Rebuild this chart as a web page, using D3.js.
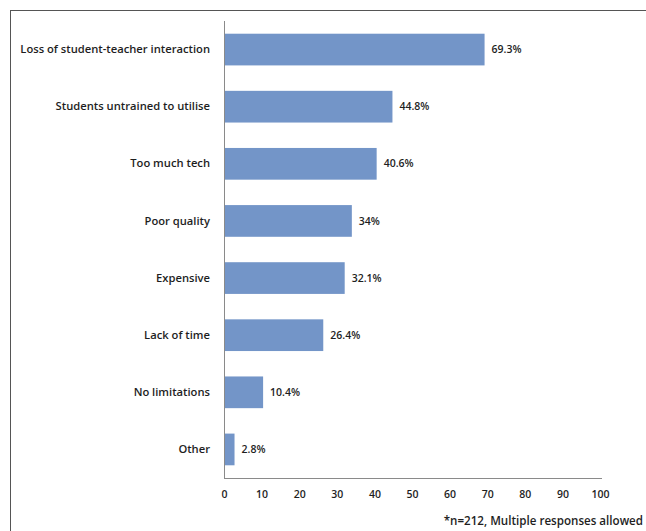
<!DOCTYPE html>
<html>
<head>
<meta charset="utf-8">
<script src="https://cdn.jsdelivr.net/npm/d3@7"></script>
<style>
  body { margin: 0; background: #fff; }
  text { font-family: "Open Sans", "Noto Sans", sans-serif; fill: #1e1e1e; font-weight: 600; }
</style>
</head>
<body>
<div id="chart"></div>
<script>
// categories and values (percent of respondents)
var categories = ["Loss of student-teacher interaction", "Students untrained to utilise",
  "Too much tech", "Poor quality", "Expensive", "Lack of time", "No limitations", "Other"];
var values = [69.3, 44.8, 40.6, 34, 32.1, 26.4, 10.4, 2.8];
var valueLabels = ["69.3%", "44.8%", "40.6%", "34%", "32.1%", "26.4%", "10.4%", "2.8%"];
var xTicks = [0, 10, 20, 30, 40, 50, 60, 70, 80, 90, 100];
var footnote = "*n=212, Multiple responses allowed";

var W = 646, H = 531;
var margin = {top: 21, right: 46, bottom: 53, left: 224};
var width = W - margin.left - margin.right,
    height = H - margin.top - margin.bottom;

var svg = d3.select("#chart").append("svg")
  .attr("width", W).attr("height", H);

// outer frame (only top and left show in the crop)
svg.append("rect")
  .attr("x", 10.5).attr("y", 10.5)
  .attr("width", 660).attr("height", 560)
  .attr("fill", "none").attr("stroke", "#555").attr("stroke-width", 1);

var g = svg.append("g")
  .attr("transform", "translate(" + margin.left + "," + margin.top + ")");

var x = d3.scaleLinear().domain([0, 100]).range([0, width]);
var y = d3.scaleBand().domain(categories).range([0, height]).paddingInner(0.445).paddingOuter(0.2225);

var data = categories.map(function(c, i) { return {name: c, value: values[i], label: valueLabels[i]}; });

// bars
g.selectAll(".bar")
  .data(data).enter()
  .append("rect")
  .attr("class", "bar")
  .attr("x", 0)
  .attr("y", function(d) { return y(d.name); })
  .attr("width", function(d) { return x(d.value); })
  .attr("height", y.bandwidth())
  .attr("fill", "#7395c8");

// value labels
g.selectAll(".val")
  .data(data).enter()
  .append("text")
  .attr("class", "val")
  .attr("x", function(d) { return x(d.value) + 7; })
  .attr("y", function(d) { return y(d.name) + y.bandwidth() / 2; })
  .attr("dy", "0.35em")
  .attr("font-size", "10.5px")
  .text(function(d) { return d.label; });

// y axis (category labels, no ticks)
var yAxis = g.append("g").call(d3.axisLeft(y).tickSize(0).tickPadding(14));
yAxis.select(".domain").attr("stroke", "#8a8a8a").attr("d", "M0.5,0V" + height);
yAxis.selectAll("text").attr("font-size", "11.2px").style("font-family", null).attr("fill", "#1e1e1e");

// x axis
var xAxis = g.append("g")
  .attr("transform", "translate(0," + height + ")")
  .call(d3.axisBottom(x).tickValues(xTicks).tickSize(0).tickPadding(13));
xAxis.select(".domain").attr("stroke", "#8a8a8a").attr("d", "M0,0.5H" + (width + 2));
xAxis.selectAll("text").attr("font-size", "10.5px").style("font-family", null).attr("fill", "#1e1e1e");

// footnote
svg.append("text")
  .attr("x", 643).attr("y", 521)
  .attr("dy", "0.35em")
  .attr("text-anchor", "end")
  .attr("font-size", "11.6px")
  .text(footnote);
</script>
</body>
</html>
